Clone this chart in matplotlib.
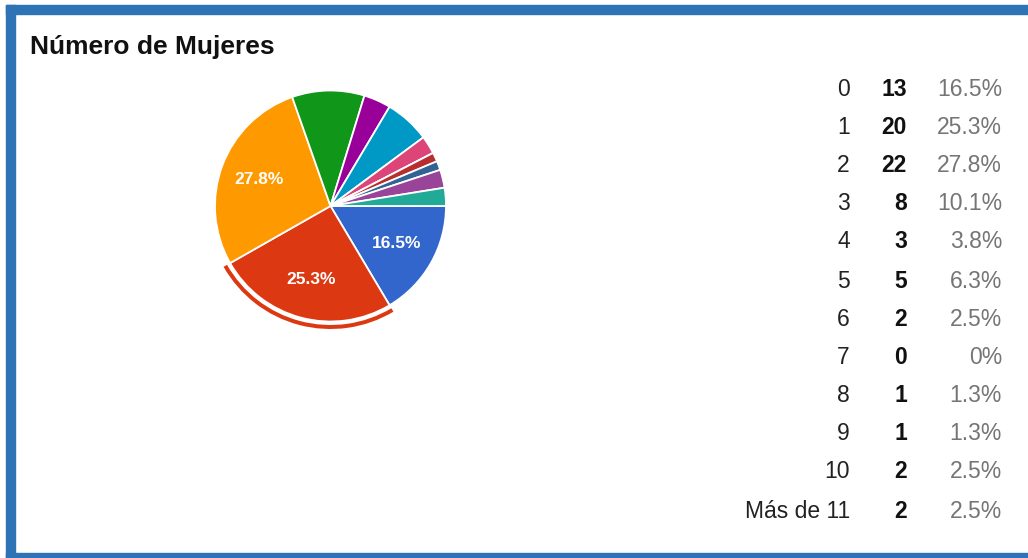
import matplotlib.pyplot as plt
from matplotlib.patches import Wedge, Rectangle

plt.rcParams['font.family'] = ['Liberation Sans', 'DejaVu Sans']

# Respuestas: número de mujeres
labels = ['0', '1', '2', '3', '4', '5', '6', '7', '8', '9', '10', 'Más de 11']
counts = [13, 20, 22, 8, 3, 5, 2, 0, 1, 1, 2, 2]
percents = ['16.5%', '25.3%', '27.8%', '10.1%', '3.8%', '6.3%', '2.5%', '0%',
            '1.3%', '1.3%', '2.5%', '2.5%']
colors = ['#3366cc', '#dc3912', '#ff9900', '#109618', '#990099', '#0099c6',
          '#dd4477', '#66aa00', '#b82e2e', '#316395', '#994499', '#22aa99']

W, H = 1028, 558
fig = plt.figure(figsize=(W / 100, H / 100), dpi=100)
fig.patch.set_facecolor('white')

# marco azul
frame = '#2f73b7'
fig.patches.append(Rectangle((6 / W, 0), (W - 6) / W, 5 / H, color=frame,
                             transform=fig.transFigure, figure=fig))
fig.patches.append(Rectangle((6 / W, (H - 14) / H), (W - 6) / W, 9 / H, color=frame,
                             transform=fig.transFigure, figure=fig))
fig.patches.append(Rectangle((6 / W, 0), 9 / W, (H - 5) / H, color=frame,
                             transform=fig.transFigure, figure=fig))

fig.text(30 / W, 1 - 47 / H, 'Número de Mujeres', fontsize=19, fontweight='bold',
         va='center', ha='left', color='#111111')

# pie
cx, cy, R = 330.5, 206, 115.5
lim = 1.2
side = 2 * lim * R
ax = fig.add_axes([(cx - side / 2) / W, (H - cy - side / 2) / H, side / W, side / H])

wedges, texts, autotexts = ax.pie(
    counts, colors=colors, startangle=0, counterclock=False, radius=1,
    wedgeprops=dict(edgecolor='white', linewidth=1.3),
    autopct=lambda p: f'{p:.1f}%' if p > 15 else '', pctdistance=0.66,
    textprops=dict(color='white', fontsize=12.5, fontweight='bold'))
ax.set_xlim(-lim, lim)
ax.set_ylim(-lim, lim)
ax.set_aspect('equal')
ax.axis('off')

# resaltado del sector seleccionado
sel = wedges[1]
ax.add_patch(Wedge((0, 0), 123 / R, sel.theta1, sel.theta2, width=4 / R,
                   facecolor=colors[1], edgecolor='none'))

# tabla de la derecha
row_y = [90, 128, 166, 204, 242, 281, 319, 357, 396, 434, 472, 511]
for lab, n, pct, y in zip(labels, counts, percents, row_y):
    fy = 1 - y / H
    fig.text(850 / W, fy, lab, fontsize=16.5, ha='right', va='center', color='#222222')
    fig.text(907 / W, fy, str(n), fontsize=16.5, ha='right', va='center',
             fontweight='bold', color='#111111')
    fig.text(1002 / W, fy, pct, fontsize=16.5, ha='right', va='center', color='#757575')

fig.savefig('out.png', dpi=100)
